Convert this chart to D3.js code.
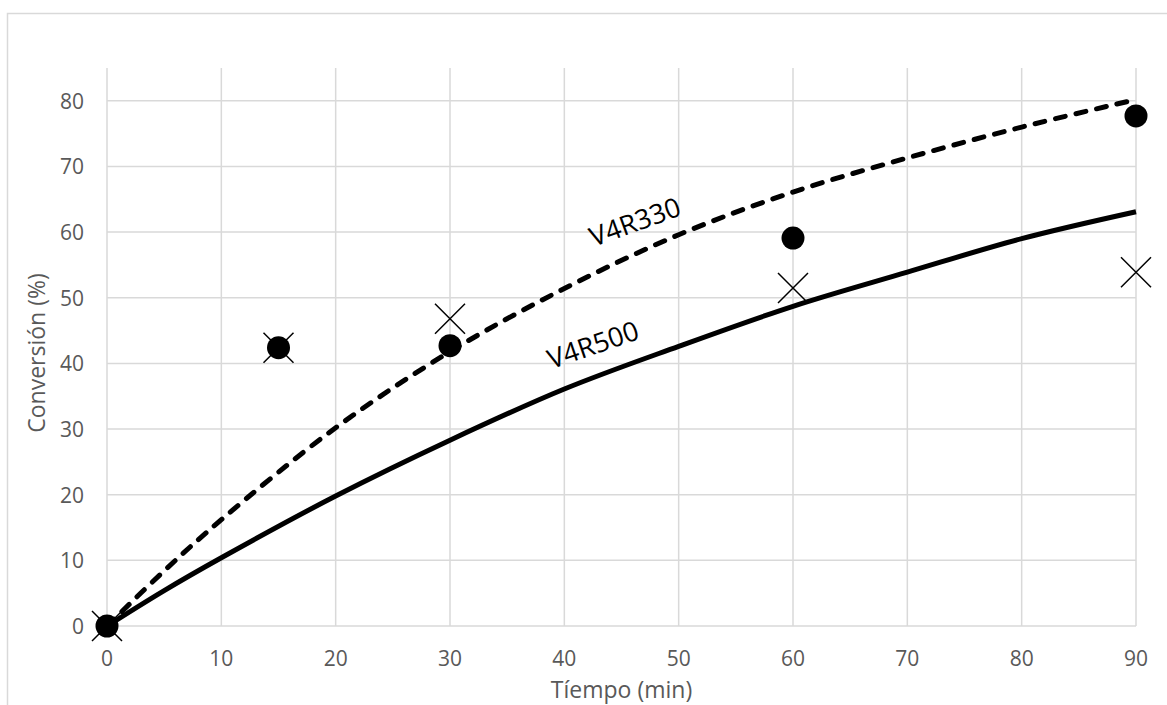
<!DOCTYPE html>
<html>
<head>
<meta charset="utf-8">
<script src="https://cdn.jsdelivr.net/npm/d3@7"></script>
<style>
  body { margin: 0; background: #fff; }
  .tick-label { font-family: "Open Sans", sans-serif; font-size: 21px; fill: #595959; }
  .axis-title { font-family: "Open Sans", sans-serif; font-size: 23px; fill: #595959; }
  .curve-label { font-family: "Open Sans", sans-serif; font-size: 27px; fill: #000; }
</style>
</head>
<body>
<div class="Chart"></div>
<script>
// measured points
let times = [0, 15, 30, 60, 90];
let v4r330 = [0, 42.4, 42.7, 59.1, 77.7];
let v4r500 = [0, 42.4, 46.8, 51.5, 53.9];

// model curves
let fitTimes = [0, 5, 10, 20, 30, 40, 50, 60, 70, 80, 90];
let fit330 = [0, 8.4, 16.2, 30.2, 41.8, 51.4, 59.6, 66.1, 71.3, 76.0, 80.2];
let fit500 = [0, 5.4, 10.4, 19.8, 28.3, 36.1, 42.6, 48.7, 53.9, 59.0, 63.1];

let xTicks = [0, 10, 20, 30, 40, 50, 60, 70, 80, 90];
let yTicks = [0, 10, 20, 30, 40, 50, 60, 70, 80];

let svgWidth = 1167;
let svgHeight = 705;

let plot = { left: 107, right: 1136, top: 68, bottom: 626 };

let svg = d3.select(".Chart")
  .append("svg")
  .attr("width", svgWidth)
  .attr("height", svgHeight);

// chart border (only left and top edges fall inside the picture)
svg.append("rect")
  .attr("x", 7.5)
  .attr("y", 13.5)
  .attr("width", 1400)
  .attr("height", 900)
  .attr("fill", "none")
  .attr("stroke", "#d9d9d9")
  .attr("stroke-width", 1.5);

let xScale = d3.scaleLinear().domain([0, 90]).range([plot.left, plot.right]);
let yScale = d3.scaleLinear().domain([0, 85]).range([plot.bottom, plot.top]);

// gridlines
svg.append("g")
  .selectAll("line")
  .data(xTicks)
  .enter()
  .append("line")
  .attr("x1", d => xScale(d))
  .attr("x2", d => xScale(d))
  .attr("y1", plot.top)
  .attr("y2", plot.bottom)
  .attr("stroke", "#d9d9d9")
  .attr("stroke-width", 1.5);

svg.append("g")
  .selectAll("line")
  .data(yTicks)
  .enter()
  .append("line")
  .attr("x1", plot.left)
  .attr("x2", plot.right)
  .attr("y1", d => yScale(d))
  .attr("y2", d => yScale(d))
  .attr("stroke", "#d9d9d9")
  .attr("stroke-width", 1.5);

// tick labels
svg.append("g")
  .selectAll("text")
  .data(xTicks)
  .enter()
  .append("text")
  .attr("class", "tick-label")
  .attr("x", d => xScale(d))
  .attr("y", 666)
  .attr("text-anchor", "middle")
  .text(d => d);

svg.append("g")
  .selectAll("text")
  .data(yTicks)
  .enter()
  .append("text")
  .attr("class", "tick-label")
  .attr("x", 84)
  .attr("y", d => yScale(d) + 8)
  .attr("text-anchor", "end")
  .text(d => d);

// axis titles
svg.append("text")
  .attr("class", "axis-title")
  .attr("x", (plot.left + plot.right) / 2)
  .attr("y", 698)
  .attr("text-anchor", "middle")
  .text("Tíempo (min)");

svg.append("text")
  .attr("class", "axis-title")
  .attr("transform", "translate(45, 353) rotate(-90)")
  .attr("text-anchor", "middle")
  .text("Conversión (%)");

// model curves
let line = d3.line()
  .x((d, i) => xScale(fitTimes[i]))
  .y(d => yScale(d))
  .curve(d3.curveCatmullRom);

svg.append("path")
  .datum(fit500)
  .attr("d", line)
  .attr("fill", "none")
  .attr("stroke", "#000")
  .attr("stroke-width", 5);

svg.append("path")
  .datum(fit330)
  .attr("d", line)
  .attr("fill", "none")
  .attr("stroke", "#000")
  .attr("stroke-width", 5)
  .attr("stroke-linecap", "round")
  .attr("stroke-dasharray", "10,11");

// markers: crosses for V4R500, dots for V4R330
let s = 15;
svg.append("g")
  .selectAll("path")
  .data(v4r500)
  .enter()
  .append("path")
  .attr("d", (d, i) => {
    let cx = xScale(times[i]), cy = yScale(d);
    return `M${cx - s},${cy - s}L${cx + s},${cy + s}M${cx - s},${cy + s}L${cx + s},${cy - s}`;
  })
  .attr("stroke", "#000")
  .attr("stroke-width", 1.5)
  .attr("fill", "none");

svg.append("g")
  .selectAll("circle")
  .data(v4r330)
  .enter()
  .append("circle")
  .attr("cx", (d, i) => xScale(times[i]))
  .attr("cy", d => yScale(d))
  .attr("r", 11.5)
  .attr("fill", "#000");

// curve labels
svg.append("text")
  .attr("class", "curve-label")
  .attr("transform", "translate(635, 222) rotate(-20)")
  .attr("text-anchor", "middle")
  .attr("dy", "0.35em")
  .text("V4R330");

svg.append("text")
  .attr("class", "curve-label")
  .attr("transform", "translate(593, 345) rotate(-19)")
  .attr("text-anchor", "middle")
  .attr("dy", "0.35em")
  .text("V4R500");
</script>
</body>
</html>
